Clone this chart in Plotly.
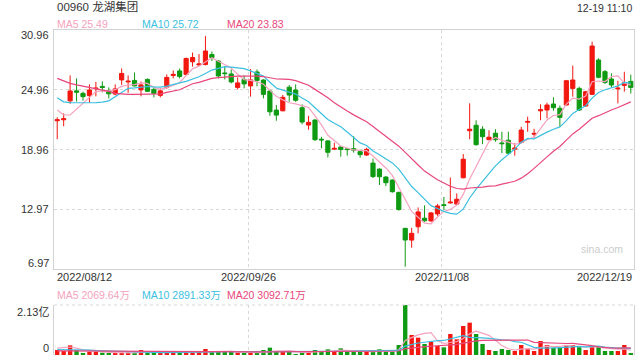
import plotly.graph_objects as go

# ---------------- data ----------------
tick_dates = ["2022/08/12", "2022/09/26", "2022/11/08", "2022/12/19"]
tick_pos = [0, 29.68, 59.67, 89]

open_ = [21.85,21.95,23.85,24.85,24.60,24.37,25.05,25.30,24.85,24.53,
         25.95,25.75,25.90,24.95,26.00,25.00,24.40,25.20,26.40,26.85,
         26.50,27.77,27.45,27.50,28.50,27.85,26.65,26.55,25.20,26.00,
         25.35,26.75,25.94,24.83,22.92,22.85,25.22,24.94,23.16,21.42,
         21.92,20.00,19.83,19.00,19.22,19.02,19.05,18.75,18.41,17.60,
         17.00,16.20,15.90,14.66,11.05,9.87,11.21,12.07,11.80,12.50,
         13.42,13.60,13.49,16.13,20.85,21.40,21.00,19.95,20.60,19.62,
         19.90,19.00,19.68,21.70,20.50,22.85,22.93,23.53,23.10,23.43,
         25.10,25.10,23.33,24.50,27.95,26.78,26.04,25.05,25.40,25.80]
high = [22.20,22.60,26.40,26.10,24.77,25.50,25.75,25.80,25.20,25.50,
        27.10,26.40,26.70,25.80,26.10,25.25,25.10,26.50,26.90,27.10,
        28.20,28.70,28.55,30.35,28.80,27.95,27.25,27.00,26.20,26.40,
        27.05,27.00,26.00,24.95,23.43,24.45,25.43,25.50,23.49,22.35,
        22.02,20.24,19.91,19.65,19.28,19.10,20.30,18.80,19.14,18.05,
        17.07,16.30,15.97,14.73,11.10,11.10,13.15,13.36,12.70,13.50,
        14.20,16.15,14.56,18.51,23.60,21.90,21.30,20.90,21.00,20.75,
        20.75,19.60,21.25,22.26,21.05,23.50,23.66,24.20,23.38,25.95,
        27.38,25.27,24.85,29.79,28.12,26.94,26.61,25.86,26.77,26.47]
low = [20.00,21.30,23.55,23.77,23.87,23.70,24.30,24.70,24.10,24.40,
       25.45,24.65,25.30,24.30,24.75,24.20,24.20,25.05,26.10,26.10,
       26.45,27.28,27.40,27.40,27.85,26.10,26.00,25.60,25.00,25.10,
       24.27,25.30,24.10,22.35,21.85,22.80,23.76,23.75,21.50,20.95,
       19.82,19.08,18.17,18.93,18.25,18.35,18.65,18.15,18.31,16.10,
       15.40,15.30,14.63,12.82,7.20,9.10,10.55,11.71,11.70,12.30,
       12.90,13.55,13.40,16.07,20.00,19.35,19.50,19.90,19.75,18.60,
       18.50,18.35,19.58,20.75,20.15,21.90,22.09,22.86,21.25,23.38,
       24.27,22.83,23.25,24.43,26.11,25.54,25.20,23.60,24.77,24.58]
close = [21.95,22.05,24.84,24.72,24.27,24.94,25.12,25.20,24.55,25.05,
         26.60,25.82,25.35,25.45,24.80,24.60,24.85,26.20,26.50,26.30,
         28.10,28.20,27.55,28.85,28.20,26.35,26.58,25.75,25.65,25.55,
         25.95,25.90,24.50,22.75,22.42,24.20,24.43,23.90,21.72,21.69,
         19.95,19.93,18.68,19.08,18.96,18.96,18.90,18.45,18.98,16.25,
         16.23,15.63,14.73,12.94,9.88,10.55,12.70,11.81,12.60,13.30,
         13.36,13.68,13.97,17.99,21.00,19.45,20.25,20.20,19.95,19.55,
         18.60,19.10,20.92,21.78,20.58,22.95,23.43,23.16,22.19,25.87,
         25.94,22.93,24.77,29.35,26.21,25.70,25.44,25.12,25.67,25.20]

ma5 = [22.93,22.43,22.43,23.00,23.57,24.16,24.78,24.85,24.82,24.97,
       25.30,25.44,25.47,25.65,25.60,25.20,25.01,25.18,25.39,25.69,
       26.39,27.06,27.33,27.80,28.18,27.83,27.51,27.15,26.51,25.98,
       25.90,25.76,25.51,24.93,24.30,23.95,23.66,23.54,23.33,23.19,
       22.34,21.44,20.39,19.87,19.32,19.12,18.92,18.87,18.85,18.31,
       17.76,17.11,16.36,15.16,13.88,12.75,12.16,11.58,11.51,12.19,
       12.75,12.95,13.38,14.46,16.00,17.22,18.53,19.78,20.17,19.88,
       19.71,19.48,19.62,19.99,20.20,21.07,21.93,22.38,22.46,23.52,
       24.12,24.02,24.34,25.77,25.84,25.79,26.29,26.36,25.63,25.43]
ma10 = [24.17,23.75,23.68,23.66,23.66,23.66,23.68,23.72,23.85,24.27,
        24.73,25.11,25.16,25.24,25.29,25.25,25.23,25.33,25.52,25.65,
        25.80,26.04,26.26,26.60,26.94,27.11,27.28,27.24,27.15,27.08,
        26.86,26.63,26.33,25.72,25.14,24.93,24.71,24.53,24.13,23.75,
        23.15,22.55,21.97,21.60,21.25,20.73,20.18,19.63,19.36,18.81,
        18.44,18.01,17.62,17.00,16.10,15.25,14.63,13.97,13.33,13.04,
        12.75,12.56,12.48,12.98,14.10,14.99,15.74,16.58,17.32,17.94,
        18.46,19.01,19.70,20.08,20.04,20.39,20.71,21.00,21.23,21.86,
        22.59,22.98,23.36,24.12,24.68,24.96,25.16,25.35,25.70,25.63]
ma20 = [26.10,25.85,25.60,25.45,25.33,25.22,25.10,24.97,24.80,24.60,
        24.53,24.50,24.50,24.50,24.50,24.50,24.55,24.70,24.85,24.96,
        25.27,25.57,25.71,25.92,26.11,26.18,26.26,26.28,26.34,26.36,
        26.33,26.33,26.29,26.16,26.04,26.02,26.00,25.88,25.64,25.41,
        25.00,24.59,24.15,23.66,23.20,22.83,22.44,22.08,21.75,21.28,
        20.79,20.28,19.79,19.30,18.67,17.99,17.41,16.80,16.35,15.93,
        15.60,15.28,15.05,14.99,15.10,15.12,15.19,15.28,15.32,15.49,
        15.61,15.78,16.09,16.53,17.07,17.69,18.22,18.79,19.27,19.90,
        20.53,20.99,21.53,22.10,22.36,22.67,22.93,23.18,23.46,23.75]

# volume in 万股
volume = [2130,1704,4118,2130,710,1420,1420,994,710,710,
          994,994,994,2130,994,994,994,1704,994,994,
          994,994,1420,2556,1420,1420,1420,1420,994,710,
          994,994,2130,3124,1420,1420,1420,426,994,1420,
          2130,1704,2414,1420,2840,1420,1420,1420,1420,1420,
          2414,1420,1420,4260,21300,8520,7384,4686,5680,3976,
          3266,8946,6674,12354,13774,8946,4686,2130,1704,2556,
          2130,1704,4260,2698,1704,5964,4260,3124,3124,3976,
          4260,3550,2130,3550,3550,1704,1704,1704,4260,710]
vma5 = [2900,3100,3400,2900,2158,2016,1960,1335,1051,1051,
        966,880,880,1164,1221,1221,1221,1363,1136,1136,
        1136,1136,1079,1392,1477,1562,1647,1647,1335,1193,
        1108,1022,1164,1590,1732,1818,1903,1562,1136,1136,
        1278,1335,1732,1818,2102,1960,1903,1704,1704,1420,
        1619,1619,1619,2187,6163,7384,8577,9230,9514,6049,
        4998,5311,5708,7043,9003,10139,9287,8378,6248,4004,
        2641,2045,2471,2670,2499,3266,3777,3550,3635,4090,
        3749,3607,3408,3493,3408,2897,2528,2442,2584,2016]
vma10 = [2300,2300,2350,2300,2200,2050,1900,1800,1700,1605,
         1491,1420,1108,1108,1136,1093,1051,1122,1150,1179,
         1179,1179,1221,1264,1306,1349,1392,1363,1363,1335,
         1335,1335,1406,1463,1463,1463,1463,1363,1363,1434,
         1548,1619,1647,1477,1619,1619,1619,1718,1761,1761,
         1789,1761,1661,1945,3791,4501,5098,5424,5850,6106,
         6191,6944,7469,8279,7526,7569,7299,7043,6646,6504,
         6390,5666,5424,4459,3252,2954,2911,3010,3152,3294,
         3507,3692,3479,3564,3749,3323,3067,2925,3039,2712]
vma20 = [1800,1780,1760,1740,1720,1700,1680,1650,1620,1590,
         1560,1530,1500,1470,1450,1430,1410,1400,1395,1392,
         1335,1299,1164,1186,1221,1221,1221,1243,1257,1257,
         1257,1257,1314,1363,1385,1406,1427,1363,1363,1385,
         1441,1477,1527,1470,1541,1541,1541,1541,1562,1598,
         1669,1690,1654,1711,2705,3060,3358,3571,3806,3933,
         3990,4352,4565,5112,5659,6035,6198,6234,6248,6305,
         6291,6305,6447,6369,5389,5261,5105,5027,4899,4899,
         4949,4679,4452,4012,3500,3138,2989,2968,3096,3003]

price_ticks = [30.96, 24.96, 18.96, 12.97, 6.97]
vol_max = 21300
title = "00960 龙湖集团"
stamp = "12-19 11:10"
ma_labels = ["MA5 25.49", "MA10 25.72", "MA20 23.83"]
vma_labels = ["MA5 2069.64万", "MA10 2891.33万", "MA20 3092.71万"]

# ---------------- style ----------------
RED = "#f2170f"
GREEN = "#0e9a12"
C5, C10, C20 = "#f6a2bd", "#3cbfe0", "#e8477b"
BORDER = "#d2d2d2"
GRID = "#d8d8d8"
TXT = "#333333"
FONT = "Liberation Sans, Arial, Noto Sans CJK SC, sans-serif"

x = list(range(len(close)))
fig = go.Figure()

fig.add_trace(go.Candlestick(
    x=x, open=open_, high=high, low=low, close=close,
    increasing=dict(line=dict(color=RED, width=1), fillcolor=RED),
    decreasing=dict(line=dict(color=GREEN, width=1), fillcolor=GREEN),
    whiskerwidth=0, xaxis="x", yaxis="y", hoverinfo="skip"))
for arr, col in ((ma5, C5), (ma10, C10), (ma20, C20)):
    fig.add_trace(go.Scatter(x=x, y=arr, mode="lines", line=dict(color=col, width=1.2),
                             xaxis="x", yaxis="y", hoverinfo="skip"))

bar_colors = [RED if c >= o else GREEN for o, c in zip(open_, close)]
fig.add_trace(go.Bar(x=x, y=volume, marker=dict(color=bar_colors, line=dict(width=0)),
                     xaxis="x2", yaxis="y2", hoverinfo="skip"))
for arr, col in ((vma5, C5), (vma10, C10), (vma20, C20)):
    fig.add_trace(go.Scatter(x=x, y=arr, mode="lines", line=dict(color=col, width=1.2),
                             xaxis="x2", yaxis="y2", hoverinfo="skip"))

PRICE_DOM = [0.2646, 1.0]
VOL_DOM = [0.0, 0.15385]

fig.update_layout(
    width=640, height=360,
    margin=dict(l=54, r=6, t=30, b=5),
    paper_bgcolor="white", plot_bgcolor="white",
    showlegend=False, boxgap=0.35, boxgroupgap=0, bargap=0.32,
    font=dict(family=FONT, size=11, color=TXT),
    xaxis=dict(domain=[0, 1], range=[-0.5, 89.5], anchor="y",
               tickvals=tick_pos[1:3], showticklabels=False, ticks="",
               showgrid=True, gridcolor=GRID, griddash="dot", gridwidth=1,
               zeroline=False, showline=True, linecolor=BORDER, mirror=True,
               rangeslider=dict(visible=False)),
    yaxis=dict(domain=PRICE_DOM, range=[price_ticks[-1], price_ticks[0]], anchor="x",
               tickvals=price_ticks[1:4], showticklabels=False, ticks="",
               showgrid=True, gridcolor=GRID, griddash="dot", gridwidth=1,
               zeroline=False, showline=True, linecolor=BORDER, mirror=True),
    xaxis2=dict(domain=[0, 1], range=[-0.5, 89.5], anchor="y2",
                tickvals=tick_pos[1:3], showticklabels=False, ticks="",
                showgrid=True, gridcolor=GRID, griddash="dot", gridwidth=1,
                zeroline=False, showline=False),
    yaxis2=dict(domain=VOL_DOM, range=[0, vol_max], anchor="x2",
                showticklabels=False, ticks="", showgrid=False,
                zeroline=False, showline=True, linecolor=BORDER, mirror=True),
)

fig.add_shape(type="line", xref="paper", yref="paper", x0=0, x1=1,
              y0=VOL_DOM[1], y1=VOL_DOM[1], line=dict(color=GRID, width=1, dash="dot"))

ann = []
def A(text, x, y, xref="paper", yref="paper", xanchor="left", size=11, color=TXT, xshift=0, yshift=0):
    ann.append(dict(text=text, x=x, y=y, xref=xref, yref=yref, xanchor=xanchor, yanchor="middle",
                    showarrow=False, font=dict(family=FONT, size=size, color=color),
                    xshift=xshift, yshift=yshift))

# header
A(title, 0, 1.0708, size=11.5, xshift=1)
A(stamp, 1, 1.0677, xanchor="right", size=10.5)
for t, px, col in zip(ma_labels, (0.0017, 0.1483, 0.2948), (C5, C10, C20)):
    A(t, px, 1.0185, size=10.5, color=col)
for t, px, col in zip(vma_labels, (0.0017, 0.1483, 0.2948), (C5, C10, C20)):
    A(t, px, 0.1846, size=10.5, color=col)

# price tick labels
for v in price_ticks:
    ys = -5 if v == price_ticks[0] else (6 if v == price_ticks[-1] else 0)
    A(f"{v:.2f}", 0, v, yref="y", xanchor="right", xshift=-3, yshift=ys)
# volume tick labels
A("2.13亿", 0, vol_max, yref="y2", xanchor="right", xshift=-3, yshift=-7)
A("0", 0, 0, yref="y2", xanchor="right", xshift=-3, yshift=7)

# date labels
A(tick_dates[0], 0, 0.2385, xshift=1)
A(tick_dates[1], tick_pos[1], 0.2385, xref="x", xanchor="center")
A(tick_dates[2], tick_pos[2], 0.2385, xref="x", xanchor="center")
A(tick_dates[3], 1, 0.2385, xanchor="right")

# watermark
A("sina.com", 0.9448, 0.3262, xanchor="center", size=10.5, color="#cccccc")

fig.update_layout(annotations=ann)
fig.write_html("out.html")
